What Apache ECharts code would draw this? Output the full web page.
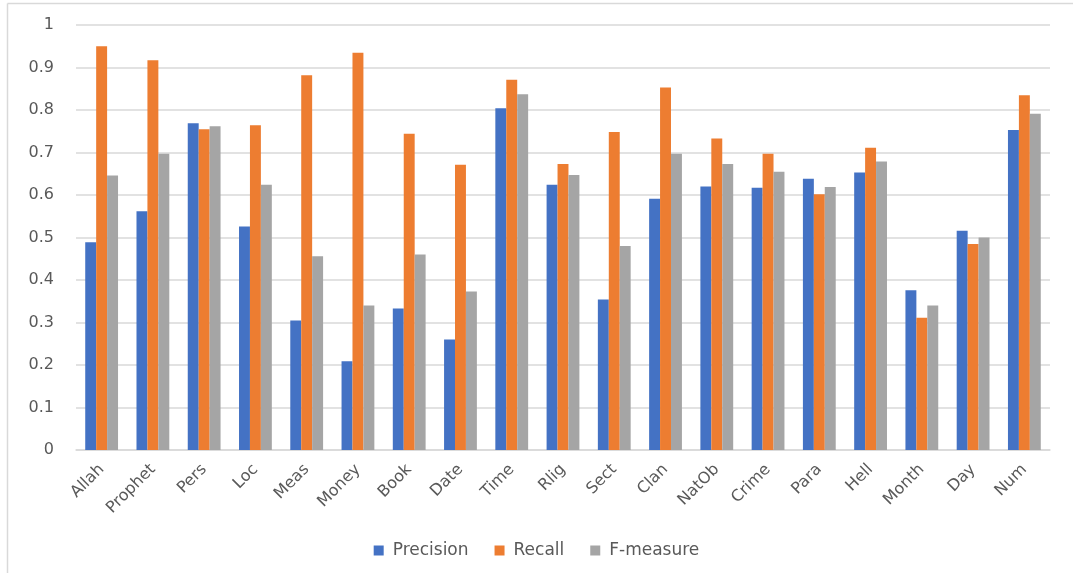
<!DOCTYPE html>
<html>
<head>
<meta charset="utf-8">
<script src="https://cdn.jsdelivr.net/npm/echarts@6/dist/echarts.min.js"></script>
<style>html,body{margin:0;padding:0;background:#fff;}#c{width:1073px;height:573px;}</style>
</head>
<body>
<div id="c"></div>
<script>
const categories = ["Allah","Prophet","Pers","Loc","Meas","Money","Book","Date","Time","Rlig","Sect","Clan","NatOb","Crime","Para","Hell","Month","Day","Num"];
const precision = [0.489,0.562,0.769,0.526,0.305,0.209,0.333,0.260,0.804,0.624,0.354,0.591,0.620,0.617,0.638,0.653,0.376,0.516,0.753];
const recall    = [0.950,0.917,0.755,0.764,0.882,0.935,0.744,0.671,0.871,0.673,0.748,0.853,0.733,0.697,0.602,0.711,0.311,0.485,0.835];
const fmeasure  = [0.646,0.697,0.762,0.624,0.456,0.340,0.460,0.373,0.837,0.647,0.480,0.697,0.673,0.655,0.619,0.679,0.340,0.500,0.791];
const seriesNames = ["Precision","Recall","F-measure"];
const colors = ["#4472C4","#ED7D31","#A5A5A5"];

const chart = echarts.init(document.getElementById('c'), null, {renderer:'canvas'});
const font = "DejaVu Sans";
chart.setOption({
  animation:false,
  color: colors,
  textStyle:{fontFamily:font},
  graphic:[
    {type:'line',shape:{x1:7.5,y1:3.5,x2:1073,y2:3.5},style:{stroke:'#d9d9d9',lineWidth:1.5},silent:true,z:-1},
    {type:'line',shape:{x1:7.5,y1:3.5,x2:7.5,y2:573},style:{stroke:'#d9d9d9',lineWidth:1.5},silent:true,z:-1}
  ],
  grid:{left:76,right:23,top:25,bottom:123,containLabel:false},
  legend:{
    data:seriesNames, top:537, left:'center', itemWidth:10, itemHeight:10, itemGap:26,
    icon:'rect',
    textStyle:{fontFamily:font,fontSize:17,color:'#595959',padding:[0,0,0,4]}
  },
  xAxis:{
    type:'category', data:categories,
    axisLine:{lineStyle:{color:'#d9d9d9',width:1.5}},
    axisTick:{show:false},
    axisLabel:{rotate:45,interval:0,margin:17,fontFamily:font,fontSize:16,color:'#595959'}
  },
  yAxis:{
    type:'value', min:0, max:1, interval:0.1,
    axisLine:{show:false}, axisTick:{show:false},
    splitLine:{lineStyle:{color:'#d9d9d9',width:1.5}},
    axisLabel:{margin:22,fontFamily:font,fontSize:16,color:'#595959',formatter:v=>String(Math.round(v*10)/10)}
  },
  series:[
    {name:seriesNames[0],type:'bar',data:precision,barGap:'0%',barCategoryGap:'36%'},
    {name:seriesNames[1],type:'bar',data:recall,barGap:'0%',barCategoryGap:'36%'},
    {name:seriesNames[2],type:'bar',data:fmeasure,barGap:'0%',barCategoryGap:'36%'}
  ]
});
</script>
</body>
</html>
